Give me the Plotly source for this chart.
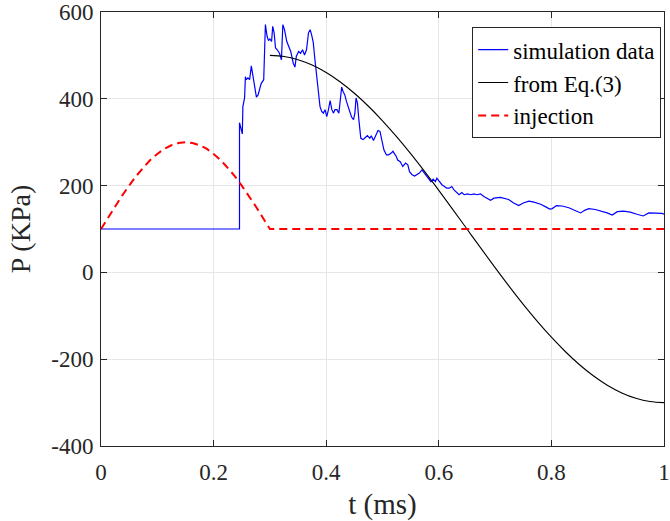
import plotly.graph_objects as go

# ---- data ----
t_sim = [0, 0.246, 0.246, 0.251, 0.252, 0.255, 0.2565, 0.258, 0.261, 0.264,
         0.267, 0.270, 0.273, 0.276, 0.279, 0.282, 0.2845, 0.289, 0.292, 0.295,
         0.2975, 0.300, 0.303, 0.305, 0.3075, 0.310, 0.313, 0.317, 0.3205, 0.323,
         0.326, 0.330, 0.333, 0.337, 0.3415, 0.3445, 0.347, 0.351, 0.3545, 0.358,
         0.3615, 0.365, 0.3685, 0.3715, 0.374, 0.377, 0.380, 0.385, 0.389, 0.392,
         0.395, 0.398, 0.401, 0.404, 0.407, 0.410, 0.413, 0.4155, 0.419, 0.4225,
         0.4255, 0.4275, 0.430, 0.433, 0.436, 0.439, 0.442, 0.445, 0.4485, 0.451,
         0.453, 0.4555, 0.458, 0.4615, 0.4655, 0.4695, 0.473, 0.4775, 0.480, 0.484,
         0.488, 0.492, 0.4955, 0.499, 0.5026, 0.507, 0.511, 0.5155, 0.5185, 0.5245,
         0.527, 0.5315, 0.536, 0.541, 0.545, 0.548, 0.5525, 0.557, 0.561, 0.5655,
         0.570, 0.574, 0.580, 0.586, 0.590, 0.594, 0.5965, 0.601, 0.6055, 0.610,
         0.614, 0.6185, 0.623, 0.627, 0.631, 0.636, 0.641, 0.645, 0.651, 0.6565,
         0.6625, 0.668, 0.674, 0.680, 0.692, 0.698, 0.7095, 0.7155, 0.724, 0.733,
         0.742, 0.750, 0.760, 0.769, 0.781, 0.790, 0.797, 0.8015, 0.809, 0.819,
         0.831, 0.843, 0.852, 0.859, 0.8665, 0.878, 0.890, 0.899, 0.908, 0.917,
         0.9285, 0.940, 0.952, 0.963, 0.973, 0.985, 0.9965, 1.0]
p_sim = [100, 100, 345, 319, 382, 402, 451, 444, 448, 444,
         476, 455, 428, 404, 409, 427, 435, 444, 571, 544,
         534, 538, 532, 567, 552, 517, 513, 505, 490, 571,
         559, 532, 521, 509, 482, 473, 498, 509, 505, 513,
         501, 513, 552, 559, 548, 530, 490, 421, 382, 371,
         367, 375, 359, 375, 396, 375, 367, 375, 375, 367,
         398, 427, 417, 409, 394, 382, 367, 358, 352, 367,
         402, 390, 352, 309, 306, 312, 315, 309, 315, 304,
         317, 327, 325, 306, 282, 271, 271, 275, 279, 267,
         259, 255, 244, 252, 248, 232, 225, 222, 225, 229,
         236, 229, 219, 209, 215, 209, 217, 209, 202, 198,
         194, 194, 198, 190, 184, 179, 184, 179, 181, 179,
         181, 179, 181, 175, 166, 171, 173, 171, 168, 160,
         154, 160, 164, 162, 157, 151, 146, 147, 154, 153,
         149, 142, 137, 143, 147, 145, 141, 137, 132, 140,
         141, 139, 134, 130, 137, 137, 136, 134]

t_eq = [0.300, 0.325, 0.350, 0.375, 0.400, 0.425, 0.450, 0.475, 0.500, 0.525,
        0.550, 0.575, 0.600, 0.625, 0.650, 0.675, 0.700, 0.725, 0.750, 0.775,
        0.800, 0.825, 0.850, 0.875, 0.900, 0.925, 0.950, 0.975, 1.000]
p_eq = [500, 497.5, 490.0, 477.6, 460.4, 438.7, 412.7, 382.8, 349.4, 312.8,
        273.6, 232.1, 189.0, 144.8, 100.0, 55.2, 11.0, -32.1, -73.6, -112.8,
        -149.4, -182.8, -212.7, -238.7, -260.4, -277.6, -290.0, -297.5, -300.0]

t_inj = [0, 0.0125, 0.025, 0.0375, 0.05, 0.0625, 0.075, 0.0875, 0.1, 0.1125,
         0.125, 0.1375, 0.15, 0.1625, 0.175, 0.1875, 0.2, 0.2125, 0.225, 0.2375,
         0.25, 0.2625, 0.275, 0.2875, 0.3, 1.0]
p_inj = [100, 126, 152, 177, 200, 222, 241, 259, 273, 285,
         293, 298, 300, 298, 293, 285, 273, 259, 241, 222,
         200, 177, 152, 126, 100, 100]

x_ticks = [0, 0.2, 0.4, 0.6, 0.8, 1]
x_tick_labels = ["0", "0.2", "0.4", "0.6", "0.8", "1"]
y_ticks = [-400, -200, 0, 200, 400, 600]
y_tick_labels = ["-400", "-200", "0", "200", "400", "600"]

FONT = "Liberation Serif, Times New Roman, serif"

fig = go.Figure()
fig.add_trace(go.Scatter(x=t_sim, y=p_sim, mode="lines", name="simulation data",
                         line=dict(color="#0000FF", width=1.2)))
fig.add_trace(go.Scatter(x=t_eq, y=p_eq, mode="lines", name="from Eq.(3)",
                         line=dict(color="#000000", width=1.1, shape="spline")))
fig.add_trace(go.Scatter(x=t_inj, y=p_inj, mode="lines", name="injection",
                         line=dict(color="#FF0000", width=2, dash="8px,5px")))

axis_common = dict(showline=True, linecolor="#262626", linewidth=1, mirror="ticks",
                   ticks="inside", ticklen=6, tickcolor="#262626",
                   showgrid=True, gridcolor="#e6e6e6", gridwidth=1,
                   zeroline=False, ticklabeloverflow="allow",
                   tickfont=dict(family=FONT, size=23, color="#262626"))

fig.update_xaxes(range=[0, 1], tickvals=x_ticks, ticktext=x_tick_labels,
                 ticklabelstandoff=5,
                 title=dict(text="t (ms)", font=dict(family=FONT, size=29, color="#262626"),
                            standoff=10), **axis_common)
fig.update_yaxes(range=[-400, 600], tickvals=y_ticks, ticktext=y_tick_labels,
                 ticklabelstandoff=2,
                 title=dict(text="P (KPa)", font=dict(family=FONT, size=28, color="#262626"),
                            standoff=12), **axis_common)

fig.update_layout(
    width=670, height=521,
    margin=dict(l=101, r=6, t=12, b=75, autoexpand=False),
    paper_bgcolor="white", plot_bgcolor="white",
    font=dict(family=FONT, size=23, color="#000000"),
    showlegend=True,
    legend=dict(x=0.995, y=0.965, xanchor="right", yanchor="top",
                bgcolor="white", bordercolor="#262626", borderwidth=1,
                font=dict(family=FONT, size=23, color="#000000"),
                tracegroupgap=0, itemwidth=30),
)

fig.write_html("out.html", config={"displayModeBar": False},
               post_script="document.body.style.margin='0';document.body.style.overflow='hidden';")
